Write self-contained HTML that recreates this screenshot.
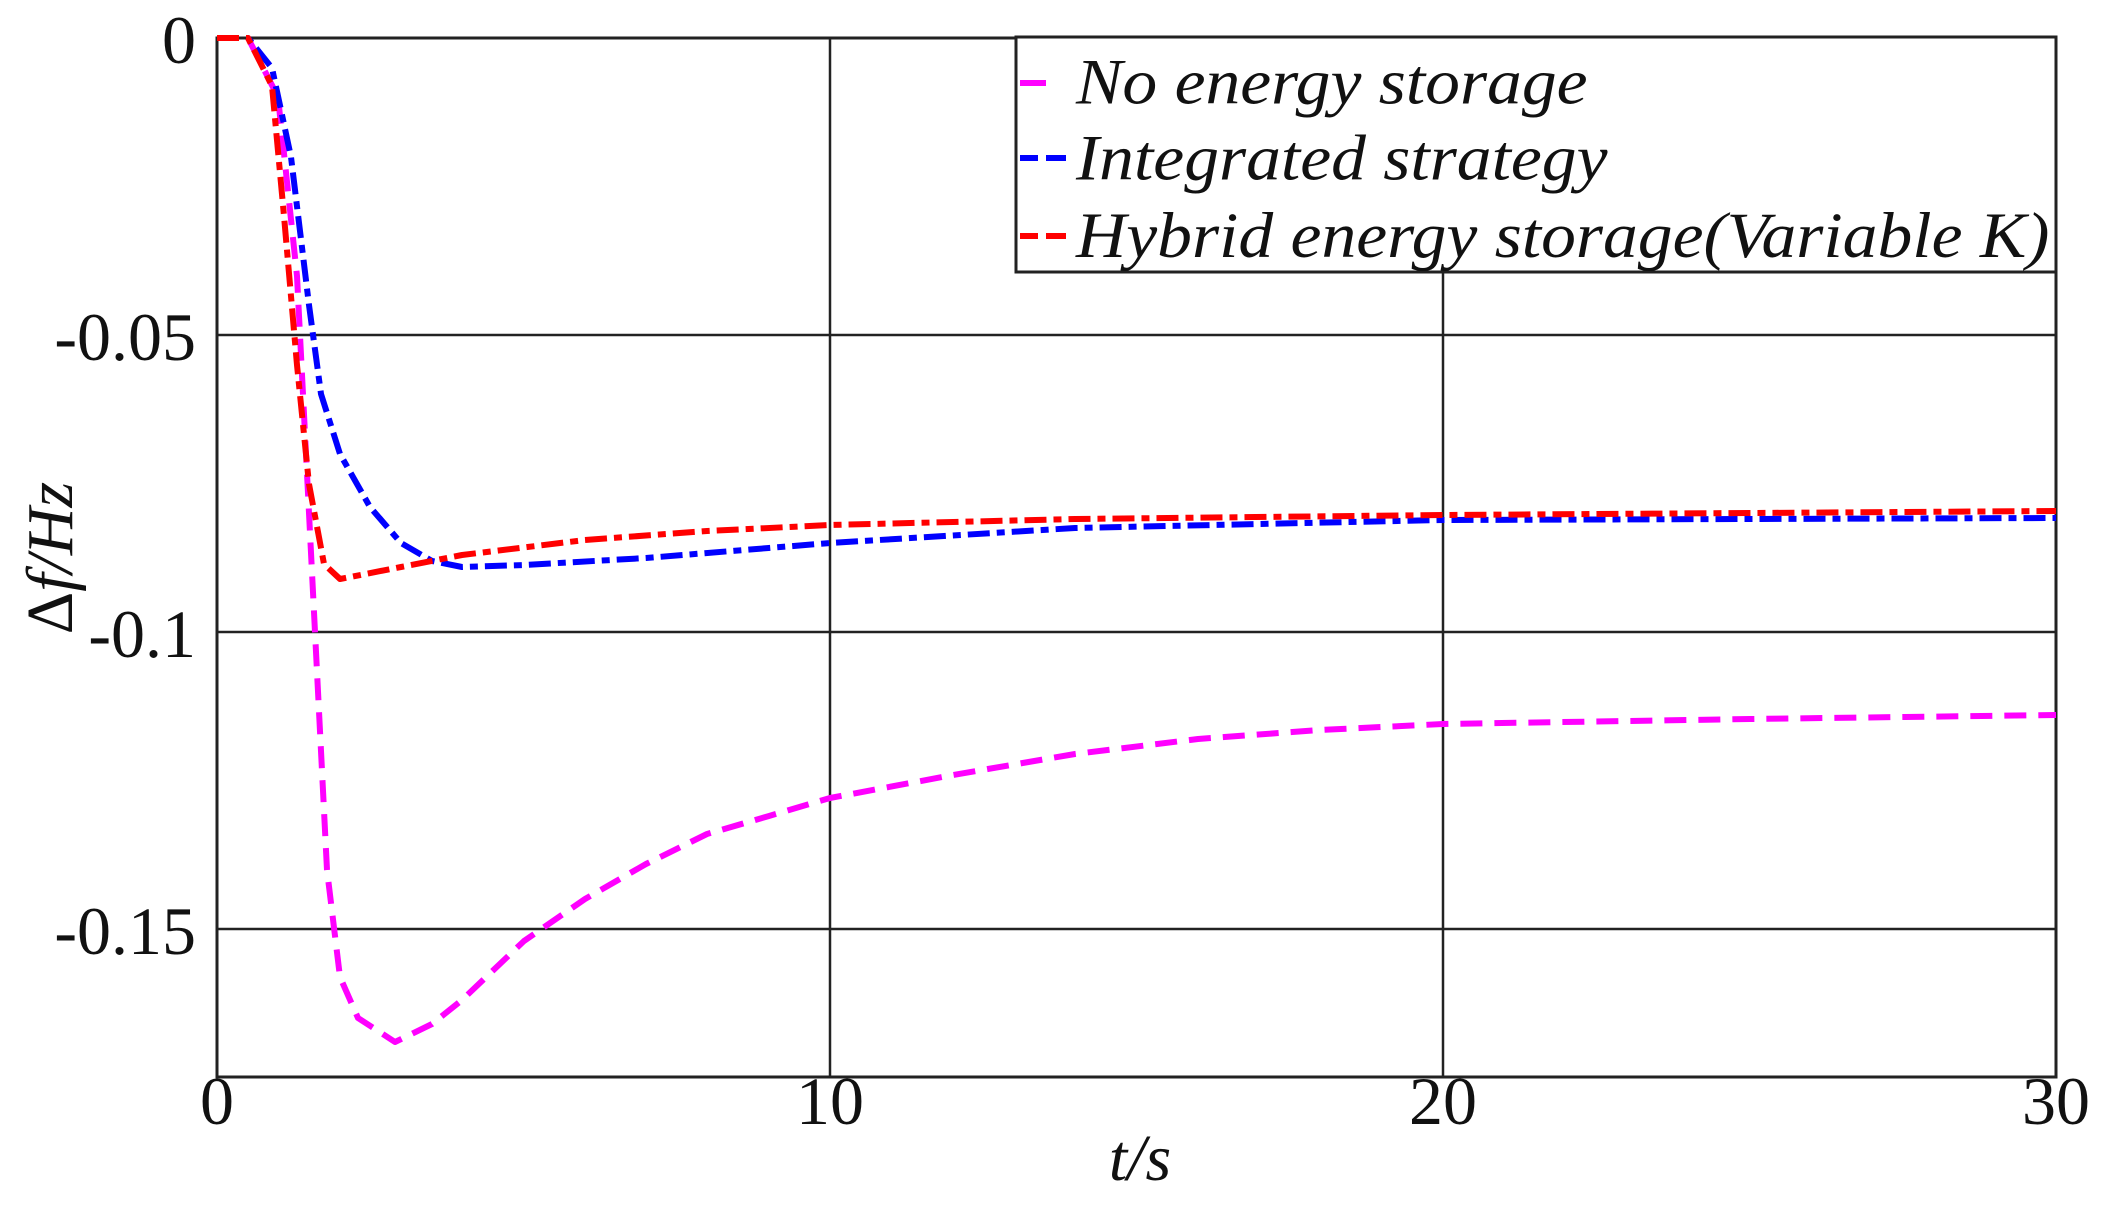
<!DOCTYPE html>
<html><head><meta charset="utf-8"><style>body{margin:0;background:#fff}svg{display:block}</style></head>
<body>
<svg width="2103" height="1219" viewBox="0 0 2103 1219" xmlns="http://www.w3.org/2000/svg" font-family="Liberation Serif, serif">
<g stroke="#222" stroke-width="2.5" fill="none">
<line x1="217" y1="335" x2="2056" y2="335"/>
<line x1="217" y1="632" x2="2056" y2="632"/>
<line x1="217" y1="929" x2="2056" y2="929"/>
<line x1="830" y1="38" x2="830" y2="1077"/>
<line x1="1443" y1="38" x2="1443" y2="1077"/>
<rect x="217" y="38" width="1839" height="1039" stroke-width="3"/>
</g>
<g fill="none" stroke-width="6" stroke-linejoin="round">
<polyline stroke="#ff00ff" stroke-dasharray="22,12" points="217,38 248,38 278,97 297,276 309,513 315,632 327,870 340,977 358,1018 395,1042 432,1024 462,1000 524,941 585,899 646,864 707,834 769,816 830,798 953,775 1075,754 1198,739 1320,730 1443,724 1750,719 2056,715"/>
<polyline stroke="#0000ff" stroke-dasharray="22,7,8,7" points="217,38 248,38 272,68 291,157 309,305 321,394 340,454 370,507 401,543 432,561 462,567 524,565 646,558 830,543 1075,528 1443,520 2056,518"/>
<polyline stroke="#ff0000" stroke-dasharray="22,7,8,7" points="217,38 248,38 272,86 284,216 297,365 309,484 324,564 340,579 401,567 462,555 585,540 707,531 830,525 1075,519 1443,515 2056,511"/>
</g>
<rect x="1016" y="37" width="1040" height="235" fill="#fff" stroke="#222" stroke-width="3"/>
<g stroke-width="6">
<line x1="1020" y1="83" x2="1046" y2="83" stroke="#ff00ff"/>
<line x1="1020" y1="158" x2="1038" y2="158" stroke="#0000ff"/><line x1="1046" y1="158" x2="1066" y2="158" stroke="#0000ff"/>
<line x1="1020" y1="236" x2="1038" y2="236" stroke="#ff0000"/><line x1="1046" y1="236" x2="1066" y2="236" stroke="#ff0000"/>
</g>
<g font-size="60" font-style="italic" fill="#111" transform="translate(1076,0) scale(1.16,1.08)">
<text x="0" y="96">No energy storage</text>
<text x="0" y="166">Integrated strategy</text>
<text x="0" y="238">Hybrid energy storage(Variable K)</text>
</g>
<g font-size="68" fill="#111" text-anchor="end">
<text x="196" y="63">0</text>
<text x="196" y="360">-0.05</text>
<text x="196" y="657">-0.1</text>
<text x="196" y="954">-0.15</text>
</g>
<g font-size="68" fill="#111" text-anchor="middle">
<text x="217" y="1124">0</text>
<text x="830" y="1124">10</text>
<text x="1443" y="1124">20</text>
<text x="2056" y="1124">30</text>
</g>
<text x="1140" y="1180" font-size="66" font-style="italic" text-anchor="middle" fill="#111">t/s</text>
<text transform="translate(72,558) rotate(-90)" font-size="66" text-anchor="middle" fill="#111">Δ<tspan font-style="italic">f/Hz</tspan></text>
</svg>
</body></html>
